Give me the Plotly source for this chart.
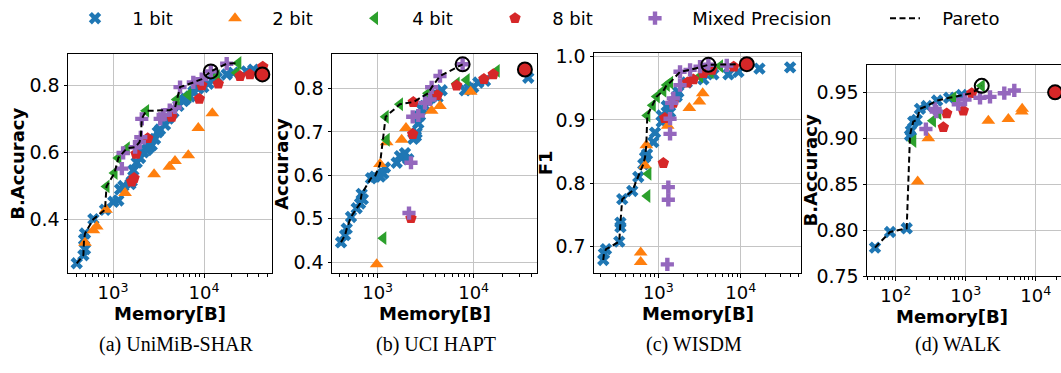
import plotly.graph_objects as go

W, H = 1061, 373

# ---------------- (a) UniMiB-SHAR : memory [B] / balanced accuracy ----------------
A_B1_MEM = [399, 472, 480, 492, 492, 608, 816, 1007, 1143, 1194, 1298, 1550, 1604, 1671, 1820, 1982,
            2150, 2346, 2500, 2661, 2896, 3100, 3283, 3726, 4053, 4400, 4605, 5227, 5930, 6300, 7015,
            7625, 8650, 9815, 11140, 12500, 13800, 17750, 21000, 29400, 34800]
A_B1_ACC = [0.268, 0.292, 0.339, 0.310, 0.357, 0.400, 0.428, 0.452, 0.456, 0.489, 0.499, 0.505, 0.513,
            0.546, 0.569, 0.583, 0.600, 0.607, 0.615, 0.621, 0.640, 0.660, 0.668, 0.682, 0.701, 0.715,
            0.720, 0.739, 0.753, 0.760, 0.767, 0.781, 0.791, 0.795, 0.805, 0.815, 0.823, 0.833, 0.838,
            0.842, 0.847]
A_B2_MEM = [492, 608, 662, 837, 1355, 2826, 4159, 4797, 6714, 8650, 12330]
A_B2_ACC = [0.329, 0.367, 0.378, 0.428, 0.478, 0.534, 0.557, 0.574, 0.591, 0.673, 0.717]
A_B4_MEM = [848, 1038, 1143, 1415, 2307, 5012, 6714, 13800, 22860, 23820]
A_B4_ACC = [0.498, 0.538, 0.583, 0.612, 0.724, 0.758, 0.772, 0.828, 0.838, 0.867]
A_B8_MEM = [1604, 1702, 1790, 2404, 4416, 8871, 9440, 14350, 24880, 31970, 44180]
A_B8_ACC = [0.512, 0.523, 0.595, 0.642, 0.706, 0.760, 0.800, 0.805, 0.828, 0.833, 0.856]
A_MIX_MEM = [1250, 1290, 1750, 1950, 2020, 2070, 3300, 3550, 4200, 4797, 5450, 7625, 9440, 11870, 17750]
A_MIX_ACC = [0.551, 0.598, 0.615, 0.630, 0.645, 0.700, 0.700, 0.712, 0.726, 0.734, 0.795, 0.809, 0.819,
             0.842, 0.865]
A_SEL_MEM, A_SEL_ACC = [11870], [0.842]
A_FP_MEM, A_FP_ACC = [43750], [0.833]

# ---------------- (b) UCI HAPT : memory [B] / accuracy ----------------
B_B1_MEM = [415, 457, 476, 527, 604, 655, 681, 700, 851, 937, 1057, 1144, 1191, 1578, 1706, 1924, 2084,
            2349, 2500, 2545, 2649, 2759, 2871, 3100, 3365, 3955, 4200, 4645, 8110, 9000, 9900, 11170,
            13120, 37070]
B_B1_ACC = [0.4455, 0.462, 0.477, 0.504, 0.524, 0.535, 0.557, 0.545, 0.593, 0.597, 0.597, 0.604, 0.618,
            0.629, 0.644, 0.651, 0.637, 0.684, 0.690, 0.698, 0.720, 0.738, 0.753, 0.760, 0.775, 0.789,
            0.780, 0.796, 0.796, 0.800, 0.803, 0.814, 0.818, 0.825]
B_B2_MEM = [977, 1057, 1241, 1778, 1972, 3652, 4458, 9310]
B_B2_ACC = [0.395, 0.626, 0.676, 0.682, 0.709, 0.749, 0.760, 0.793]
B_B4_MEM = [1144, 1241, 1211, 1706, 3343, 6650, 8450, 17380]
B_B4_ACC = [0.455, 0.682, 0.735, 0.764, 0.789, 0.812, 0.820, 0.841]
B_B8_MEM = [2223, 2316, 2350, 4180, 6650, 12790, 16000]
B_B8_ACC = [0.501, 0.695, 0.769, 0.785, 0.807, 0.822, 0.833]
B_MIX_MEM = [2120, 2223, 2318, 2650, 3112, 3510, 3652, 4458, 7674]
B_MIX_ACC = [0.513, 0.629, 0.735, 0.738, 0.767, 0.775, 0.803, 0.829, 0.856]
B_SEL_MEM, B_SEL_ACC = [7674], [0.856]
B_FP_MEM, B_FP_ACC = [34200], [0.844]

# ---------------- (c) WISDM : memory [B] / F1 ----------------
C_B1_MEM = [215, 219, 232, 336, 347, 347, 365, 483, 571, 657, 690, 729, 869, 912, 1100, 1100, 1264,
            1387, 1671, 1749, 2213, 3515, 4650, 7080, 9360, 16830, 39620]
C_B1_ACC = [0.679, 0.689, 0.696, 0.708, 0.731, 0.738, 0.775, 0.788, 0.810, 0.830, 0.841, 0.846, 0.865,
            0.880, 0.897, 0.907, 0.922, 0.912, 0.937, 0.944, 0.959, 0.964, 0.972, 0.972, 0.976, 0.981,
            0.983]
C_B2_MEM = [611, 611, 690, 715, 1300, 2377, 3146, 3452]
C_B2_ACC = [0.691, 0.676, 0.828, 0.860, 0.891, 0.919, 0.929, 0.942]
C_B4_MEM = [735, 757, 735, 855, 957, 1150, 1264, 1387, 3200, 4300, 5600]
C_B4_ACC = [0.780, 0.815, 0.907, 0.923, 0.937, 0.946, 0.955, 0.959, 0.969, 0.975, 0.985]
C_B8_MEM = [1151, 1200, 1520, 2250, 2660, 3516, 4450, 8200]
C_B8_ACC = [0.832, 0.903, 0.927, 0.959, 0.964, 0.974, 0.979, 0.984]
C_MIX_MEM = [1286, 1322, 1322, 1387, 1387, 1452, 1520, 1833, 1833, 2427, 3206, 4045, 6760]
C_MIX_ACC = [0.672, 0.774, 0.794, 0.878, 0.902, 0.927, 0.934, 0.955, 0.976, 0.979, 0.984, 0.987, 0.986]
C_SEL_MEM, C_SEL_ACC = [4045], [0.987]
C_FP_MEM, C_FP_ACC = [11830], [0.988]

# ---------------- (d) WALK : memory [B] / balanced accuracy ----------------
D_B1_MEM = [50.6, 83, 143.5, 160, 165, 178, 200, 222, 277, 390, 580, 877]
D_B1_ACC = [0.781, 0.798, 0.802, 0.903, 0.908, 0.918, 0.920, 0.932, 0.935, 0.941, 0.944, 0.947]
D_B2_MEM = [206, 292, 2104, 4065, 6310, 6400]
D_B2_ACC = [0.853, 0.900, 0.919, 0.921, 0.929, 0.932]
D_B4_MEM = [178, 340, 406, 665, 1694]
D_B4_ACC = [0.897, 0.919, 0.927, 0.944, 0.957]
D_B8_MEM = [479, 535, 925, 1219]
D_B8_ACC = [0.912, 0.927, 0.930, 0.949]
D_MIX_MEM = [270, 364, 380, 783, 977, 1600, 2222, 3556, 4943]
D_MIX_ACC = [0.910, 0.932, 0.929, 0.937, 0.942, 0.944, 0.945, 0.949, 0.952]
D_SEL_MEM, D_SEL_ACC = [1694], [0.957]
D_FP_MEM, D_FP_ACC = [18900], [0.950]

SERIES_NAMES = ["1 bit", "2 bit", "4 bit", "8 bit", "Mixed Precision"]
SERIES_COLORS = ["#1f77b4", "#ff7f0e", "#2ca02c", "#d62728", "#9467bd"]
SERIES_SYMBOLS = ["x", "triangle-up", "triangle-left", "pentagon", "cross"]
SERIES_SIZES = [11, 12, 12, 12, 11]

Y_TITLES = ["B.Accuracy", "Accuracy", "F1", "B.Accuracy"]
CAPTIONS = ["(a) UniMiB-SHAR", "(b) UCI HAPT", "(c) WISDM", "(d) WALK"]

PANELS = [
    dict(series=[(A_B1_MEM, A_B1_ACC), (A_B2_MEM, A_B2_ACC), (A_B4_MEM, A_B4_ACC),
                 (A_B8_MEM, A_B8_ACC), (A_MIX_MEM, A_MIX_ACC)],
         sel=(A_SEL_MEM, A_SEL_ACC), fp=(A_FP_MEM, A_FP_ACC),
         yticks=[0.4, 0.6, 0.8], yfmt=".1f"),
    dict(series=[(B_B1_MEM, B_B1_ACC), (B_B2_MEM, B_B2_ACC), (B_B4_MEM, B_B4_ACC),
                 (B_B8_MEM, B_B8_ACC), (B_MIX_MEM, B_MIX_ACC)],
         sel=(B_SEL_MEM, B_SEL_ACC), fp=(B_FP_MEM, B_FP_ACC),
         yticks=[0.4, 0.5, 0.6, 0.7, 0.8], yfmt=".1f"),
    dict(series=[(C_B1_MEM, C_B1_ACC), (C_B2_MEM, C_B2_ACC), (C_B4_MEM, C_B4_ACC),
                 (C_B8_MEM, C_B8_ACC), (C_MIX_MEM, C_MIX_ACC)],
         sel=(C_SEL_MEM, C_SEL_ACC), fp=(C_FP_MEM, C_FP_ACC),
         yticks=[0.7, 0.8, 0.9, 1.0], yfmt=".1f"),
    dict(series=[(D_B1_MEM, D_B1_ACC), (D_B2_MEM, D_B2_ACC), (D_B4_MEM, D_B4_ACC),
                 (D_B8_MEM, D_B8_ACC), (D_MIX_MEM, D_MIX_ACC)],
         sel=(D_SEL_MEM, D_SEL_ACC), fp=(D_FP_MEM, D_FP_ACC),
         yticks=[0.75, 0.80, 0.85, 0.90, 0.95], yfmt=".2f"),
]

# plot-area boxes in pixels: left, right, top, bottom; log10 x-range; y-range
BOXES = [
    dict(l=68, r=272, t=47, b=279, xr=[2.505, 4.747], yr=[0.238, 0.893]),
    dict(l=332, r=537, t=47, b=279, xr=[2.524, 4.660], yr=[0.374, 0.879]),
    dict(l=594, r=801, t=46, b=279, xr=[2.220, 4.730], yr=[0.658, 1.005]),
    dict(l=867, r=1061, t=58, b=282, xr=[1.590, 4.361], yr=[0.750, 0.980]),
]


def pareto_front(groups):
    """Upper-left frontier: points sorted by memory, kept when accuracy improves."""
    pts = []
    for mem, acc in groups:
        pts.extend(zip(mem, acc))
    pts.sort(key=lambda p: (p[0], -p[1]))
    fx, fy, best = [], [], float("-inf")
    for m, a in pts:
        if a > best:
            fx.append(m)
            fy.append(a)
            best = a
    return fx, fy


FONT = "DejaVu Sans"
PAD = "\u00a0\u00a0\u00a0"
fig = go.Figure()

major_x = [100, 1000, 10000]
major_x_text = ["10<sup>2</sup>", "10<sup>3</sup>", "10<sup>4</sup>"]
minor_x = [k * 10 ** e for e in range(1, 5) for k in range(2, 10)]

for i, (panel, box) in enumerate(zip(PANELS, BOXES)):
    sx = "" if i == 0 else str(i + 1)
    xref, yref = "x" + sx, "y" + sx

    for j, (mem, acc) in enumerate(panel["series"]):
        fig.add_trace(go.Scatter(
            x=mem, y=acc, mode="markers", name=PAD + SERIES_NAMES[j],
            showlegend=(i == 0),
            marker=dict(symbol=SERIES_SYMBOLS[j], size=SERIES_SIZES[j],
                        color=SERIES_COLORS[j], line=dict(width=0)),
            legendwidth=(205 if j == 4 else 95),
            xaxis=xref, yaxis=yref))

    fx, fy = pareto_front(panel["series"] + [panel["fp"]])
    fig.add_trace(go.Scatter(
        x=fx, y=fy, mode="lines", name=PAD + "Pareto",
        showlegend=(i == 0), line=dict(color="black", width=2, dash="6px,3.5px"),
        xaxis=xref, yaxis=yref))

    fig.add_trace(go.Scatter(
        x=panel["fp"][0], y=panel["fp"][1], mode="markers", showlegend=False,
        marker=dict(symbol="circle", size=14, color="#d62728", line=dict(color="black", width=2)),
        xaxis=xref, yaxis=yref))
    fig.add_trace(go.Scatter(
        x=panel["sel"][0], y=panel["sel"][1], mode="markers", showlegend=False,
        marker=dict(symbol="circle-open", size=14, color="black", line=dict(color="black", width=2)),
        xaxis=xref, yaxis=yref))

    xdom = [box["l"] / W, box["r"] / W]
    ydom = [1 - box["b"] / H, 1 - box["t"] / H]
    axis_common = dict(showline=True, linecolor="black", linewidth=1, ticks="outside",
                       ticklen=3.5, tickwidth=1, tickcolor="black", showgrid=True,
                       gridcolor="#c4c4c4", gridwidth=1, zeroline=False)
    fig.layout["xaxis" + sx] = dict(
        axis_common, type="log", domain=xdom, range=box["xr"], anchor=yref,
        tickmode="array", tickvals=major_x, ticktext=major_x_text, mirror=True,
        tickfont=dict(family=FONT, size=18, color="black"),
        minor=dict(tickmode="array", tickvals=minor_x, ticks="outside", ticklen=2.5,
                   tickwidth=0.8, tickcolor="black", showgrid=False))
    fig.layout["yaxis" + sx] = dict(
        axis_common, domain=ydom, range=box["yr"], anchor=xref,
        tickmode="array", tickvals=panel["yticks"],
        ticktext=[format(v, panel["yfmt"]) for v in panel["yticks"]],
        tickfont=dict(family=FONT, size=19, color="black"),
        mirror=(i < 3))

# axis titles and sub-captions
Y_TITLE_X = [18, 282, 545, 810]
X_TITLE_CX = [170, 434.5, 697.5, 952]
CAPTION_CX = [176, 436, 694, 958]
annotations = []
for i, box in enumerate(BOXES):
    annotations.append(dict(text="<b>" + Y_TITLES[i] + "</b>", textangle=-90, xref="paper", yref="paper",
                            x=Y_TITLE_X[i] / W, y=1 - (box["t"] + box["b"]) / 2 / H, showarrow=False,
                            xanchor="center", yanchor="middle",
                            font=dict(family=FONT, size=18, color="black")))
    annotations.append(dict(text="<b>Memory[B]</b>", xref="paper", yref="paper",
                            x=X_TITLE_CX[i] / W, y=1 - (box["b"] + 43) / H, showarrow=False,
                            xanchor="center", yanchor="middle",
                            font=dict(family=FONT, size=18, color="black")))
    annotations.append(dict(text=CAPTIONS[i], xref="paper", yref="paper",
                            x=CAPTION_CX[i] / W, y=1 - 354 / H, showarrow=False,
                            xanchor="center", yanchor="middle",
                            font=dict(family="Liberation Serif", size=20, color="black")))

fig.update_layout(
    width=W, height=H, margin=dict(l=0, r=0, t=0, b=0),
    paper_bgcolor="white", plot_bgcolor="white",
    annotations=annotations,
    legend=dict(orientation="h", x=540 / W, xanchor="center", y=1 + 11 / H, yanchor="top",
                font=dict(family=FONT, size=18, color="black"), bgcolor="rgba(0,0,0,0)",
                itemsizing="trace"),
)

fig.write_html("out.html")
